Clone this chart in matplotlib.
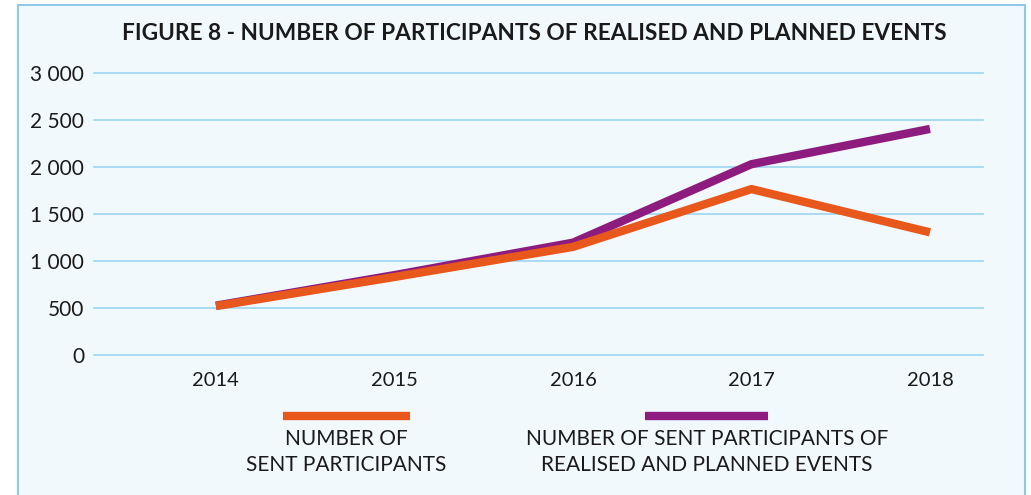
import numpy as np
import matplotlib
matplotlib.use("Agg")
import matplotlib.pyplot as plt
from matplotlib.patches import Rectangle
from matplotlib.lines import Line2D

years = [2014, 2015, 2016, 2017, 2018]
sent = [520, 830, 1150, 1765, 1305]
sent_planned = [525, 850, 1195, 2030, 2405]
yticks = [0, 500, 1000, 1500, 2000, 2500, 3000]
ytick_labels = ["0", "500", "1 000", "1 500", "2 000", "2 500", "3 000"]

title = "FIGURE 8 - NUMBER OF PARTICIPANTS OF REALISED AND PLANNED EVENTS"
label_sent = "NUMBER OF\nSENT PARTICIPANTS"
label_planned = "NUMBER OF SENT PARTICIPANTS OF\nREALISED AND PLANNED EVENTS"

ORANGE = "#E8571B"
PURPLE = "#8E1C7E"
BG = "#F2F9FD"
GRID = "#9CD5F0"
EDGE = "#8CCBEC"
TXT = "#1A1A1A"

plt.rcParams["font.family"] = ["Lato", "DejaVu Sans"]

W, H = 1031, 495
fig = plt.figure(figsize=(W / 100, H / 100), dpi=100)
fig.patch.set_facecolor("white")

# light blue panel with border
fig.patches.append(Rectangle((18 / W, -0.05), (1025 - 18) / W, 1 - 5 / H + 0.05,
                             transform=fig.transFigure, facecolor=BG,
                             edgecolor=EDGE, linewidth=1.5, zorder=-5))

ax = fig.add_axes([94 / W, 1 - 355 / H, (983 - 94) / W, (355 - 73) / H])
ax.set_zorder(2)
ax.set_facecolor("none")
ax.set_xlim(2013.317, 2018.297)
ax.set_ylim(0, 3000)

for v in yticks:
    ax.axhline(v, color=GRID, linewidth=1.2, zorder=1, clip_on=False)

ax.plot(years, sent_planned, color=PURPLE, linewidth=6, solid_capstyle="butt", zorder=3)
ax.plot(years, sent, color=ORANGE, linewidth=6, solid_capstyle="butt", zorder=4)

ax.set_yticks(yticks)
ax.set_yticklabels(ytick_labels)
ax.set_xticks(years)
ax.set_xticklabels([str(y) for y in years])
ax.tick_params(axis="y", length=0, pad=7, labelsize=15, labelcolor=TXT)
ax.tick_params(axis="x", length=0, pad=12, labelsize=14.5, labelcolor=TXT)
for s in ax.spines.values():
    s.set_visible(False)

fig.text(534 / W, 1 - 33 / H, title, ha="center", va="center",
         fontsize=16.3, fontweight="bold", color=TXT, zorder=3)

# legend
fig.add_artist(Line2D([283 / W, 410 / W], [1 - 416 / H] * 2, color=ORANGE,
                      linewidth=6, solid_capstyle="butt", transform=fig.transFigure))
fig.add_artist(Line2D([645 / W, 768 / W], [1 - 416 / H] * 2, color=PURPLE,
                      linewidth=6, solid_capstyle="butt", transform=fig.transFigure))
fig.text(346 / W, 1 - 452 / H, label_sent, ha="center", va="center",
         fontsize=15, color=TXT, linespacing=1.42, zorder=3)
fig.text(707 / W, 1 - 452 / H, label_planned, ha="center", va="center",
         fontsize=15, color=TXT, linespacing=1.42, zorder=3)

fig.savefig("out.png", dpi=100)
